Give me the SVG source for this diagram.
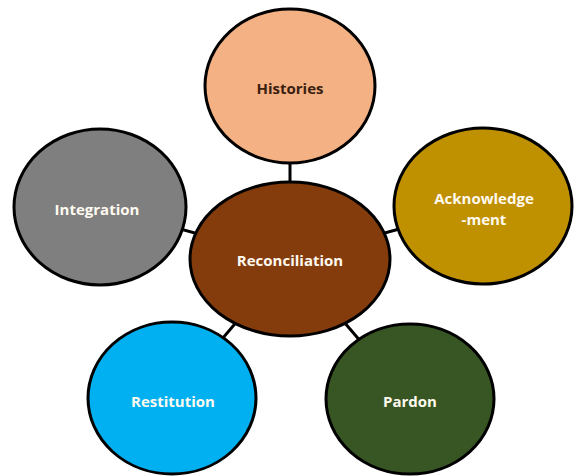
<svg xmlns="http://www.w3.org/2000/svg" width="574" height="476" viewBox="0 0 574 476">
  <style>
    .node { stroke: #000; stroke-width: 3; }
    .link { stroke: #000; stroke-width: 3; }
    .label { font-family: "Open Sans", "Liberation Sans", sans-serif; font-weight: bold; font-size: 15px; text-anchor: middle; dominant-baseline: central; fill: #fffaf0; }
  </style>
  <rect width="574" height="476" fill="#ffffff"/>
  <g id="connectors">
    <line class="link" x1="290" y1="259" x2="290" y2="86"/>
    <line class="link" x1="290" y1="259" x2="100" y2="207"/>
    <line class="link" x1="290" y1="259" x2="483" y2="206"/>
    <line class="link" x1="290" y1="259" x2="172" y2="398"/>
    <line class="link" x1="290" y1="259" x2="410" y2="399"/>
  </g>
  <g id="histories">
    <ellipse class="node" cx="290" cy="86" rx="85" ry="77" fill="#F4B183"/>
    <text class="label" x="290" y="88" style="fill:#3a2010">Histories</text>
  </g>
  <g id="integration">
    <ellipse class="node" cx="100" cy="207" rx="86" ry="78" fill="#7F7F7F"/>
    <text class="label" x="97" y="209">Integration</text>
  </g>
  <g id="acknowledgement">
    <ellipse class="node" cx="483" cy="206" rx="89" ry="78" fill="#BF9000"/>
    <text class="label" x="484" y="198">Acknowledge</text>
    <text class="label" x="484" y="219">-ment</text>
  </g>
  <g id="reconciliation">
    <ellipse class="node" cx="290" cy="259" rx="100" ry="77" fill="#843C0C"/>
    <text class="label" x="290" y="260">Reconciliation</text>
  </g>
  <g id="restitution">
    <ellipse class="node" cx="172" cy="398" rx="84" ry="76" fill="#00B0F0"/>
    <text class="label" x="173" y="401">Restitution</text>
  </g>
  <g id="pardon">
    <ellipse class="node" cx="410" cy="399" rx="84" ry="75" fill="#375623"/>
    <text class="label" x="410" y="401">Pardon</text>
  </g>
</svg>
